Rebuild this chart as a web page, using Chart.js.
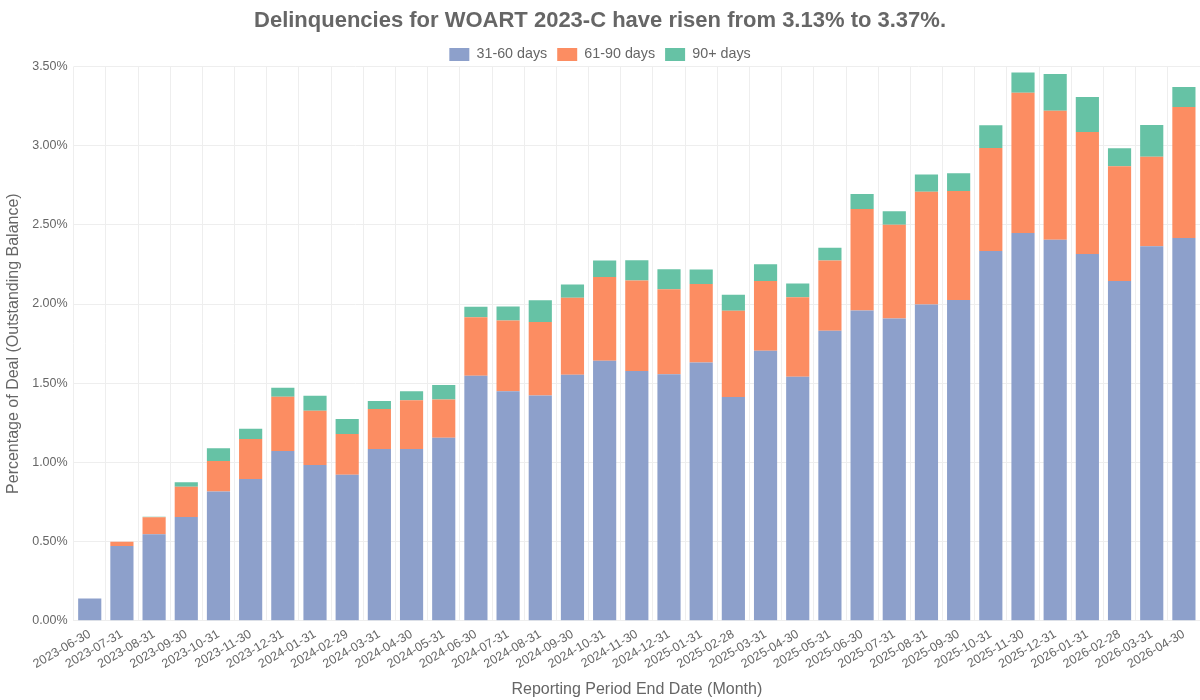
<!DOCTYPE html>
<html>
<head>
<meta charset="utf-8">
<script src="https://cdn.jsdelivr.net/npm/chart.js@4/dist/chart.umd.min.js"></script>
<style>
  html, body { margin: 0; padding: 0; background: #fff; }
  #wrap { width: 1200px; height: 700px; }
</style>
</head>
<body>
<div id="wrap"><canvas id="chart"></canvas></div>
<script>
// reporting periods
const periods = [
  "2023-06-30", "2023-07-31", "2023-08-31", "2023-09-30", "2023-10-31", "2023-11-30",
  "2023-12-31", "2024-01-31", "2024-02-29", "2024-03-31", "2024-04-30", "2024-05-31",
  "2024-06-30", "2024-07-31", "2024-08-31", "2024-09-30", "2024-10-31", "2024-11-30",
  "2024-12-31", "2025-01-31", "2025-02-28", "2025-03-31", "2025-04-30", "2025-05-31",
  "2025-06-30", "2025-07-31", "2025-08-31", "2025-09-30", "2025-10-31", "2025-11-30",
  "2025-12-31", "2026-01-31", "2026-02-28", "2026-03-31", "2026-04-30"
];

// percent of outstanding balance
const days31to60 = [
  0.141, 0.473, 0.547, 0.656, 0.816, 0.895, 1.072, 0.984, 0.923, 1.085, 1.085, 1.156,
  1.547, 1.449, 1.423, 1.553, 1.642, 1.577, 1.556, 1.631, 1.413, 1.705, 1.541, 1.831,
  1.959, 1.909, 1.997, 2.026, 2.335, 2.449, 2.405, 2.316, 2.146, 2.365, 2.417
];
const days61to90 = [
  0.000, 0.027, 0.107, 0.191, 0.193, 0.253, 0.343, 0.342, 0.256, 0.252, 0.307, 0.242,
  0.370, 0.447, 0.463, 0.486, 0.529, 0.572, 0.538, 0.496, 0.544, 0.441, 0.502, 0.444,
  0.641, 0.592, 0.711, 0.688, 0.650, 0.885, 0.815, 0.770, 0.723, 0.565, 0.826
];
const days90plus = [
  0.000, 0.000, 0.003, 0.028, 0.080, 0.065, 0.056, 0.095, 0.095, 0.050, 0.058, 0.090,
  0.065, 0.088, 0.138, 0.084, 0.104, 0.128, 0.126, 0.091, 0.101, 0.105, 0.086, 0.080,
  0.095, 0.085, 0.109, 0.111, 0.143, 0.128, 0.232, 0.221, 0.114, 0.200, 0.127
];

const yTicks = [0, 0.5, 1, 1.5, 2, 2.5, 3, 3.5];

const fontFamily = "'Liberation Sans', Arial, sans-serif";
const textColor = "#666";

new Chart(document.getElementById("chart"), {
  type: "bar",
  data: {
    labels: periods,
    datasets: [
      { label: "31-60 days", data: days31to60, backgroundColor: "#8da0cb" },
      { label: "61-90 days", data: days61to90, backgroundColor: "#fc8d62" },
      { label: "90+ days", data: days90plus, backgroundColor: "#66c2a5" }
    ]
  },
  options: {
    responsive: true,
    maintainAspectRatio: false,
    animation: false,
    layout: { padding: { top: 6, right: 0, left: 0, bottom: 1 } },
    plugins: {
      title: {
        display: true,
        text: "Delinquencies for WOART 2023-C have risen from 3.13% to 3.37%.",
        color: textColor,
        font: { family: fontFamily, size: 22, weight: "bold" },
        padding: { top: 2, bottom: 3 }
      },
      legend: {
        position: "top",
        maxHeight: 29,
        labels: {
          color: textColor,
          font: { family: fontFamily, size: 14.3 },
          boxWidth: 20,
          boxHeight: 13,
          padding: 10
        }
      },
      tooltip: { enabled: false }
    },
    scales: {
      x: {
        stacked: true,
        grid: { color: "#eeeeee", drawTicks: false },
        border: { display: false },
        ticks: {
          color: textColor,
          font: { family: fontFamily, size: 12.5 },
          minRotation: 30,
          maxRotation: 30,
          autoSkip: false,
          padding: 6
        },
        title: {
          display: true,
          text: "Reporting Period End Date (Month)",
          color: textColor,
          font: { family: fontFamily, size: 16 },
          padding: { top: 2, bottom: 0 }
        }
      },
      y: {
        stacked: true,
        min: 0,
        max: 3.5,
        afterBuildTicks: (axis) => { axis.ticks = yTicks.map(v => ({ value: v })); },
        grid: { color: "#eeeeee", drawTicks: false },
        border: { display: false },
        ticks: {
          color: textColor,
          font: { family: fontFamily, size: 12.5 },
          padding: 6,
          callback: (v) => v.toFixed(2) + "%"
        },
        title: {
          display: true,
          text: "Percentage of Deal (Outstanding Balance)",
          color: textColor,
          font: { family: fontFamily, size: 16 },
          padding: { top: 4, bottom: 3 }
        }
      }
    }
  }
});
</script>
</body>
</html>
